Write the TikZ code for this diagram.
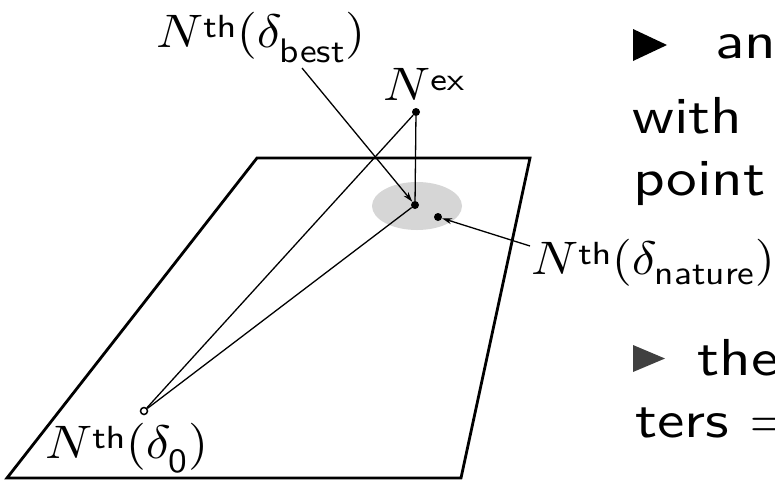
\documentclass[tikz,border=0pt]{standalone}
\usepackage{fontspec}
\usepackage{graphicx}
\usetikzlibrary{arrows.meta}
\DeclareFontShape{OML}{cmm}{m}{it}{<->cmmi10}{}
\DeclareFontShape{OT1}{cmr}{m}{n}{<->cmr10}{}
\newfontfamily\sften{lmsans10-regular.otf}
\newfontfamily\sfeight{lmsans8-regular.otf}
\newcommand{\subsf}[1]{\mbox{\fontsize{34}{34}\selectfont\sften #1}}
\newcommand{\supsf}[1]{\mbox{\fontsize{32}{32}\selectfont\sfeight #1}}
\newcommand{\Nth}{N^{\supsf{th}}}
\newcommand{\lblx}[1]{\scalebox{1.1}[1]{#1}}
\newcommand{\txtx}[1]{\scalebox{1.18}[1]{#1}}
\tikzset{
  dot/.style={circle, fill=black, inner sep=0pt, minimum size=8pt},
  odot/.style={circle, draw=black, fill=white, line width=1.5pt, inner sep=0pt, minimum size=7pt},
  conn/.style={line width=1.3pt},
  arr/.style={line width=1.3pt, -{Stealth[length=10pt,width=6pt]}},
  lbl/.style={anchor=base west, inner sep=0pt, font=\fontsize{47}{56}\selectfont},
  txt/.style={anchor=base west, inner sep=0pt, font=\fontsize{52}{62}\selectfont\sften},
}
\begin{document}
\begin{tikzpicture}[x=1pt,y=-1pt]
\useasboundingbox (0,0) rectangle (775,480);
% plane
\draw[line width=2.8pt, line join=miter] (257,158) -- (530,158) -- (461,478) -- (7,478) -- cycle;
% shaded region
\fill[gray!32] (417,206) ellipse [x radius=45, y radius=24];
% points
\node[dot] (ex) at (416,112) {};
\node[dot] (best) at (415,205) {};
\node[dot] (nat) at (438,217) {};
\node[odot] (d0) at (144,411) {};
% connectors
\draw[conn] (ex) -- (best);
\draw[conn] (ex) -- (d0);
\draw[conn] (best) -- (d0);
\coordinate (bstart) at (302,68);
\coordinate (nstart) at (530,246);
\draw[arr] (bstart) -- (best);
\draw[arr] (nstart) -- (nat);
% labels
\node[lbl] (lbest) at (156,47) {\lblx{$\Nth(\delta_{\subsf{best}})$}};
\node[lbl] (lex) at (383,100) {\lblx{$N^{\supsf{ex}}$}};
\node[lbl] (lnat) at (531,274) {\lblx{$\Nth(\delta_{\subsf{nature}})$}};
\node[lbl] (ld0) at (45,458) {\lblx{$\Nth(\delta_{\subsf{0}})$}};
% right-hand text
\fill (633,29) -- (667,45) -- (633,61) -- cycle;
\node[txt] (t1) at (715,58) {\txtx{an}};
\node[txt] (t2) at (632,133) {\txtx{with}};
\node[txt] (t3) at (633,195) {\txtx{point}};
\fill[black!75] (633,345) -- (665,358.5) -- (633,372) -- cycle;
\node[txt] (t4) at (697,375) {\txtx{the}};
\node[txt] (t5) at (635,437) {\txtx{ters =}};
\end{tikzpicture}
\end{document}
